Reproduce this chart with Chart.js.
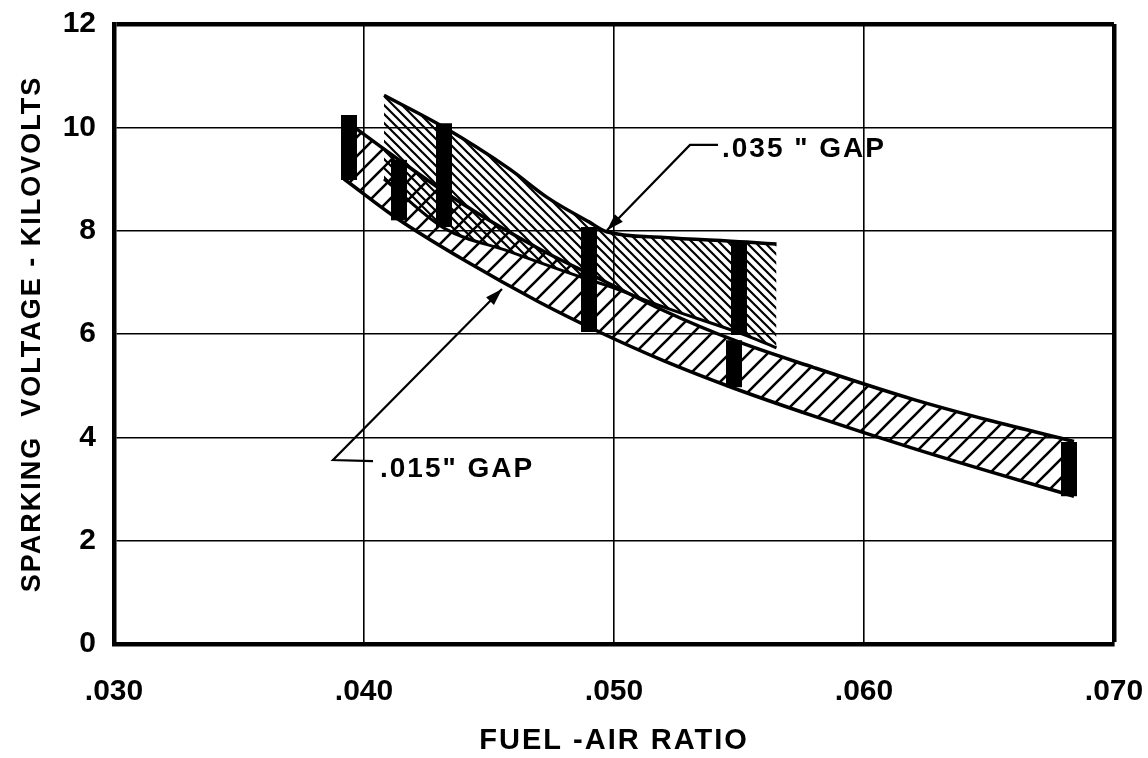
<!DOCTYPE html>
<html><head><meta charset="utf-8">
<script src="https://cdn.jsdelivr.net/npm/chart.js@4/dist/chart.umd.min.js"></script>
<style>html,body{margin:0;padding:0;background:#fff}#wrap{width:1148px;height:758px;position:relative}</style>
</head><body><div id="wrap"><canvas id="c" width="1148" height="758"></canvas></div>
<script>
// ---- data ----
const xTickLabels = ['.030', '.040', '.050', '.060', '.070'];
const yTickLabels = ['0', '2', '4', '6', '8', '10', '12'];

// .015" gap band
const fuelAir015 = [0.0392, 0.0414, 0.0440, 0.0470, 0.0495, 0.0520, 0.0548, 0.0580, 0.0620, 0.0650, 0.0684];
const upper015   = [10.15, 9.37, 8.50, 7.65, 7.05, 6.45, 5.88, 5.35, 4.73, 4.33, 3.92];
const lower015   = [9.00, 8.21, 7.43, 6.62, 6.02, 5.48, 4.95, 4.41, 3.78, 3.34, 2.86];

// .035" gap band
const fuelAir035 = [0.0408, 0.0432, 0.0458, 0.0474, 0.0490, 0.0497, 0.0520, 0.0553, 0.0565];
const upper035   = [10.62, 10.00, 9.20, 8.62, 8.17, 7.98, 7.87, 7.78, 7.74];
const lower035   = [9.00, 8.05, 7.60, 7.32, 7.05, 6.94, 6.52, 5.97, 5.73];

// measured scatter ranges (black bars)
const barFuelAir = [0.0394, 0.0414, 0.0432, 0.0490, 0.0550, 0.0548, 0.0682];
const barLow     = [8.98, 8.20, 8.07, 6.04, 5.98, 4.97, 2.86];
const barHigh    = [10.24, 9.37, 10.08, 8.07, 7.78, 5.88, 3.91];

const gapLabels = ['.035 " GAP', '.015" GAP'];
const xTitle = 'FUEL -AIR RATIO';
const yTitle = 'SPARKING  VOLTAGE - KILOVOLTS';

// ---- annotation anchors (data coordinates) ----
const notes = [
  { label: gapLabels[0], text: [0.05432, 9.43], start: [0.05416, 9.66], elbow: [0.05304, 9.66], tip: [0.04972, 8.01] },
  { label: gapLabels[1], text: [0.04064, 3.23], start: [0.04036, 3.54], elbow: [0.03876, 3.56], tip: [0.04552, 6.87] }
];

const canvas = document.getElementById('c');
const mainCtx = canvas.getContext('2d');

function hatch(size, forward, lw) {
  const c = document.createElement('canvas');
  c.width = size; c.height = size;
  const g = c.getContext('2d');
  g.strokeStyle = '#000'; g.lineWidth = lw; g.lineCap = 'square';
  g.beginPath();
  if (forward) {
    g.moveTo(0, size); g.lineTo(size, 0);
    g.moveTo(-size / 2, size / 2); g.lineTo(size / 2, -size / 2);
    g.moveTo(size / 2, size * 1.5); g.lineTo(size * 1.5, size / 2);
  } else {
    g.moveTo(0, 0); g.lineTo(size, size);
    g.moveTo(-size / 2, size / 2); g.lineTo(size / 2, size * 1.5);
    g.moveTo(size / 2, -size / 2); g.lineTo(size * 1.5, size / 2);
  }
  g.stroke();
  return mainCtx.createPattern(c, 'repeat');
}
const fwdHatch = hatch(19, true, 2.6);
const backHatch = hatch(9, false, 2.2);

const toPts = (xs, ys) => xs.map((x, i) => ({ x: x, y: ys[i] }));

const datasets = [
  { data: toPts(fuelAir015, upper015), fill: '+1', backgroundColor: fwdHatch, borderColor: '#000', borderWidth: 3.5, cubicInterpolationMode: 'monotone' },
  { data: toPts(fuelAir015, lower015), fill: false, borderColor: '#000', borderWidth: 3.5, cubicInterpolationMode: 'monotone' },
  { data: toPts(fuelAir035, upper035), fill: '+1', backgroundColor: backHatch, borderColor: '#000', borderWidth: 3.5, cubicInterpolationMode: 'monotone' },
  { data: toPts(fuelAir035, lower035), fill: false, borderColor: '#000', borderWidth: 3, cubicInterpolationMode: 'monotone' }
];
barFuelAir.forEach((x, i) => {
  datasets.push({ data: [{ x: x, y: barLow[i] }, { x: x, y: barHigh[i] }], fill: false, borderColor: '#000', borderWidth: 16, borderCapStyle: 'butt' });
});
datasets.forEach(d => { d.showLine = true; d.pointRadius = 0; d.pointHoverRadius = 0; });

function setSpacing(ctx, v) { try { ctx.letterSpacing = v; } catch (e) {} }

const noteLetterFont = 'bold 28px "Liberation Sans"';
const notesPlugin = {
  id: 'notes',
  beforeDraw(chart) { setSpacing(chart.ctx, '2px'); },       // axis titles (drawn in grid layer)
  afterDatasetsDraw(chart) {
    const { ctx, scales: { x, y } } = chart;
    const P = p => [x.getPixelForValue(p[0]), y.getPixelForValue(p[1])];
    ctx.save();
    ctx.strokeStyle = '#000'; ctx.fillStyle = '#000'; ctx.lineWidth = 2.2;
    notes.forEach(n => {
      const s = P(n.start), e = P(n.elbow), t = P(n.tip);
      ctx.beginPath(); ctx.moveTo(s[0], s[1]); ctx.lineTo(e[0], e[1]); ctx.lineTo(t[0], t[1]); ctx.stroke();
      const ang = Math.atan2(t[1] - e[1], t[0] - e[0]);
      const L = 17, W = 5.5;
      ctx.beginPath();
      ctx.moveTo(t[0], t[1]);
      ctx.lineTo(t[0] - L * Math.cos(ang) + W * Math.sin(ang), t[1] - L * Math.sin(ang) - W * Math.cos(ang));
      ctx.lineTo(t[0] - L * Math.cos(ang) - W * Math.sin(ang), t[1] - L * Math.sin(ang) + W * Math.cos(ang));
      ctx.closePath(); ctx.fill();
      const tp = P(n.text);
      ctx.font = noteLetterFont;
      setSpacing(ctx, '2px');
      ctx.textAlign = 'left'; ctx.textBaseline = 'alphabetic';
      ctx.fillText(n.label, tp[0], tp[1]);
    });
    ctx.restore();
    setSpacing(ctx, '0px');                                   // tick labels drawn afterwards
  }
};

const tickFont = { family: 'Liberation Sans', weight: 'bold', size: 30 };
const xTitleFont = { family: 'Liberation Sans', weight: 'bold', size: 29 };
const yTitleFont = { family: 'Liberation Sans', weight: 'bold', size: 27 };

new Chart(canvas, {
  type: 'scatter',
  data: { datasets: datasets },
  plugins: [notesPlugin],
  options: {
    responsive: false,
    animation: false,
    devicePixelRatio: 1,
    layout: { padding: { top: 24, right: 34, left: 0, bottom: 0 } },
    plugins: { legend: { display: false }, tooltip: { enabled: false } },
    scales: {
      x: {
        type: 'linear', min: 0.03, max: 0.07,
        afterFit: s => { s.height = 114; s.paddingLeft = 0; s.paddingRight = 0; },
        afterBuildTicks: s => { s.ticks = xTickLabels.map((l, i) => ({ value: 0.03 + i * 0.01 })); },
        ticks: { callback: (v, i) => xTickLabels[i], font: tickFont, color: '#000', padding: 30, maxRotation: 0, z: 1 },
        grid: { color: '#000', drawTicks: false, lineWidth: c => (c.index === xTickLabels.length - 1 ? 4.5 : 1.6) },
        border: { color: '#000', width: 4.5 },
        title: { display: true, text: xTitle, font: xTitleFont, color: '#000', padding: { top: 0, bottom: 0 } }
      },
      y: {
        type: 'linear', min: 0, max: 12,
        afterFit: s => { s.width = 114; s.paddingTop = 0; s.paddingBottom = 0; },
        afterBuildTicks: s => { s.ticks = yTickLabels.map((l, i) => ({ value: i * 2 })); },
        ticks: { callback: (v, i) => yTickLabels[i], font: tickFont, color: '#000', padding: 18, z: 1 },
        grid: { color: '#000', drawTicks: false, lineWidth: c => (c.index === yTickLabels.length - 1 ? 4.5 : 1.6) },
        border: { color: '#000', width: 4.5 },
        title: { display: true, text: yTitle, font: yTitleFont, color: '#000', padding: { top: 16, bottom: 0 } }
      }
    }
  }
});
</script>
</body></html>
